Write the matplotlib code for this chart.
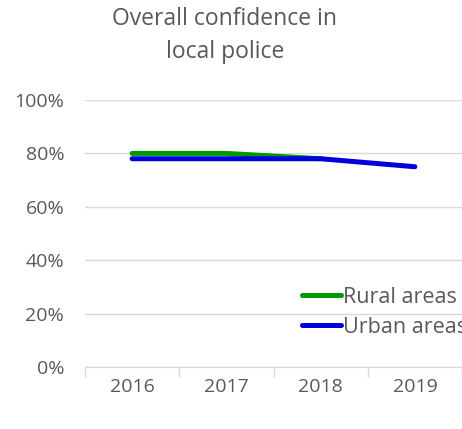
import numpy as np
import matplotlib.pyplot as plt

years = ["2016", "2017", "2018", "2019"]
rural = [80, 80, 78, np.nan]
urban = [78, 78, 78, 75]
yticks = [0, 20, 40, 60, 80, 100]

plt.rcParams["font.family"] = ["Open Sans", "DejaVu Sans"]
txt = "#595959"

fig = plt.figure(figsize=(4.62, 4.29), dpi=100)
ax = fig.add_axes([85 / 462, 1 - 367 / 429, 377 / 462, 267 / 429])

x = np.arange(len(years))
ax.plot(x, rural, color="#009900", lw=3.6, solid_capstyle="round", label="Rural areas")
ax.plot(x, urban, color="#0000dd", lw=3.6, solid_capstyle="round", label="Urban areas")

ax.set_xlim(-0.5, len(years) - 0.5)
ax.set_ylim(0, 100)
ax.set_yticks(yticks)
ax.set_yticklabels([f"{v}%" for v in yticks])
ax.set_xticks(x)
ax.set_xticklabels(years)
ax.set_xticks(np.arange(-0.5, len(years)), minor=True)
ax.tick_params(axis="x", which="major", length=0, pad=8, labelsize=14, labelcolor=txt)
ax.tick_params(axis="x", which="minor", length=7, color="#d9d9d9", width=1)
ax.tick_params(axis="y", length=0, pad=15, labelsize=14, labelcolor=txt)
ax.grid(axis="y", color="#d9d9d9", lw=1)
for s in ["top", "right", "left"]:
    ax.spines[s].set_visible(False)
ax.spines["bottom"].set_color("#d9d9d9")

for yy, line in [(19, "Overall confidence in"), (52, "local police")]:
    fig.text(225 / 462, 1 - yy / 429, line, ha="center", va="center", fontsize=16.5, color=txt)

ax.legend(loc="upper left", bbox_to_anchor=(302 / 462, 1 - 287 / 429), bbox_transform=fig.transFigure,
          frameon=False, handlelength=1.8, handletextpad=0.12, labelspacing=0.4, fontsize=15.5,
          labelcolor=txt, borderaxespad=0, borderpad=0)

fig.savefig("out.png", dpi=100)
